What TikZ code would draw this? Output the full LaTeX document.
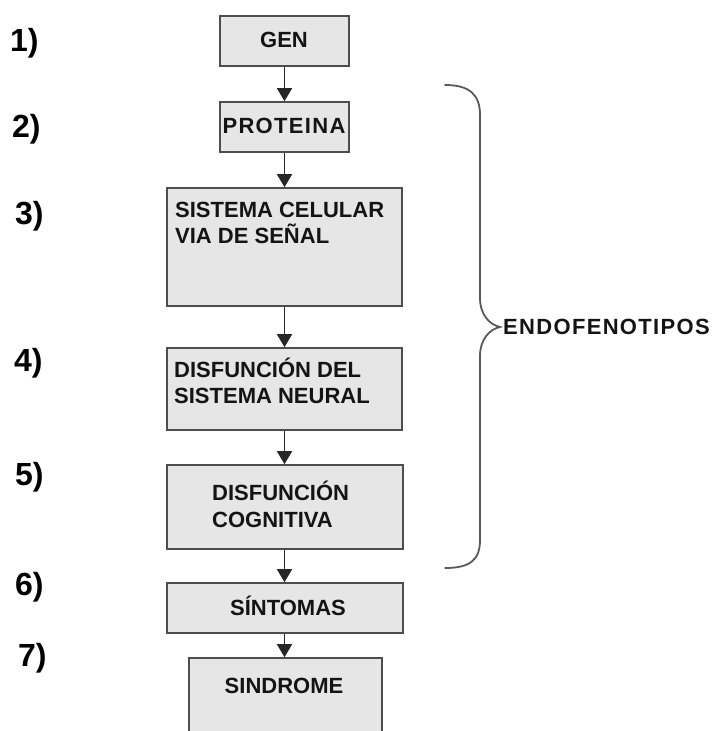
\documentclass[tikz,border=0pt]{standalone}
\usepackage{fontspec}
\setmainfont{Liberation Sans}
\usetikzlibrary{arrows.meta}
\definecolor{boxfill}{HTML}{E6E6E6}
\definecolor{boxline}{HTML}{4D4D4D}
\definecolor{txt}{HTML}{141414}
\begin{document}
\begin{tikzpicture}[x=1pt,y=-1pt,
  stagebox/.style={draw=boxline,fill=boxfill,line width=1.6pt,inner sep=0pt},
  boxtext/.style={inner sep=0pt,text=txt,font=\fontsize{22}{26}\selectfont\bfseries},
  widetext/.style={boxtext,font=\fontsize{22}{26}\selectfont\bfseries\addfontfeature{LetterSpace=6}},
  numtext/.style={inner sep=0pt,anchor=base west,text=black,font=\fontsize{32}{36}\selectfont\bfseries},
  flow/.style={draw=black!85,line width=1.5pt,-{Triangle[width=15pt,length=13pt]}}]
\useasboundingbox (0,0) rectangle (717,731);
% boxes
\node[stagebox,minimum width=129pt,minimum height=50pt] (gen) at (284.5,41) {};
\node[stagebox,minimum width=129pt,minimum height=50pt] (prot) at (284.5,127) {};
\node[stagebox,minimum width=235pt,minimum height=118pt] (sist) at (284.5,247) {};
\node[stagebox,minimum width=235pt,minimum height=82pt] (neur) at (284.5,389) {};
\node[stagebox,minimum width=236pt,minimum height=84pt] (cogn) at (285,507) {};
\node[stagebox,minimum width=236pt,minimum height=50pt] (sint) at (285,608) {};
\node[stagebox,minimum width=193pt,minimum height=104pt] (sind) at (285.5,710) {};
% texts
\node[boxtext,anchor=base] (tgen) at (284,47) {GEN};
\node[widetext,anchor=base] (tprot) at (284,133) {PROTEINA};
\node[boxtext,anchor=base west] (tsist1) at (175,217) {SISTEMA CELULAR};
\node[boxtext,anchor=base west] (tsist2) at (175,243) {VIA DE SEÑAL};
\node[boxtext,anchor=base west] (tneur1) at (174,377) {DISFUNCIÓN DEL};
\node[boxtext,anchor=base west] (tneur2) at (174,403) {SISTEMA NEURAL};
\node[boxtext,anchor=base west] (tcogn1) at (212,500) {DISFUNCIÓN};
\node[boxtext,anchor=base west] (tcogn2) at (212,527) {COGNITIVA};
\node[boxtext,anchor=base] (tsint) at (288,615) {SÍNTOMAS};
\node[boxtext,anchor=base] (tsind) at (284,693) {SINDROME};
% arrows
\draw[flow] (gen.south) -- (gen.south |- prot.north);
\draw[flow] (prot.south) -- (prot.south |- sist.north);
\draw[flow] (sist.south) -- (sist.south |- neur.north);
\draw[flow] (neur.south) -- (neur.south |- cogn.north);
\draw[flow] (neur.south |- cogn.south) -- (neur.south |- sint.north);
\draw[flow] (neur.south |- sint.south) -- (neur.south |- sind.north);
% numbers
\node[numtext] (n1) at (10,51) {1)};
\node[numtext] (n2) at (12,137) {2)};
\node[numtext] (n3) at (15,224) {3)};
\node[numtext] (n4) at (14,371) {4)};
\node[numtext] (n5) at (15,485) {5)};
\node[numtext] (n6) at (15,595) {6)};
\node[numtext] (n7) at (18,666) {7)};
% brace
\draw[draw=black!65,line width=1.8pt,line cap=round]
  (445,85) .. controls (470,85) and (480,95) .. (480,115)
  -- (480,298) .. controls (480,315) and (490,325) .. (500,327)
  .. controls (490,329) and (480,339) .. (480,356)
  -- (480,540) .. controls (480,560) and (470,568) .. (445,568);
\node[widetext,anchor=base west] (endo) at (503,334) {ENDOFENOTIPOS};
\end{tikzpicture}
\end{document}
